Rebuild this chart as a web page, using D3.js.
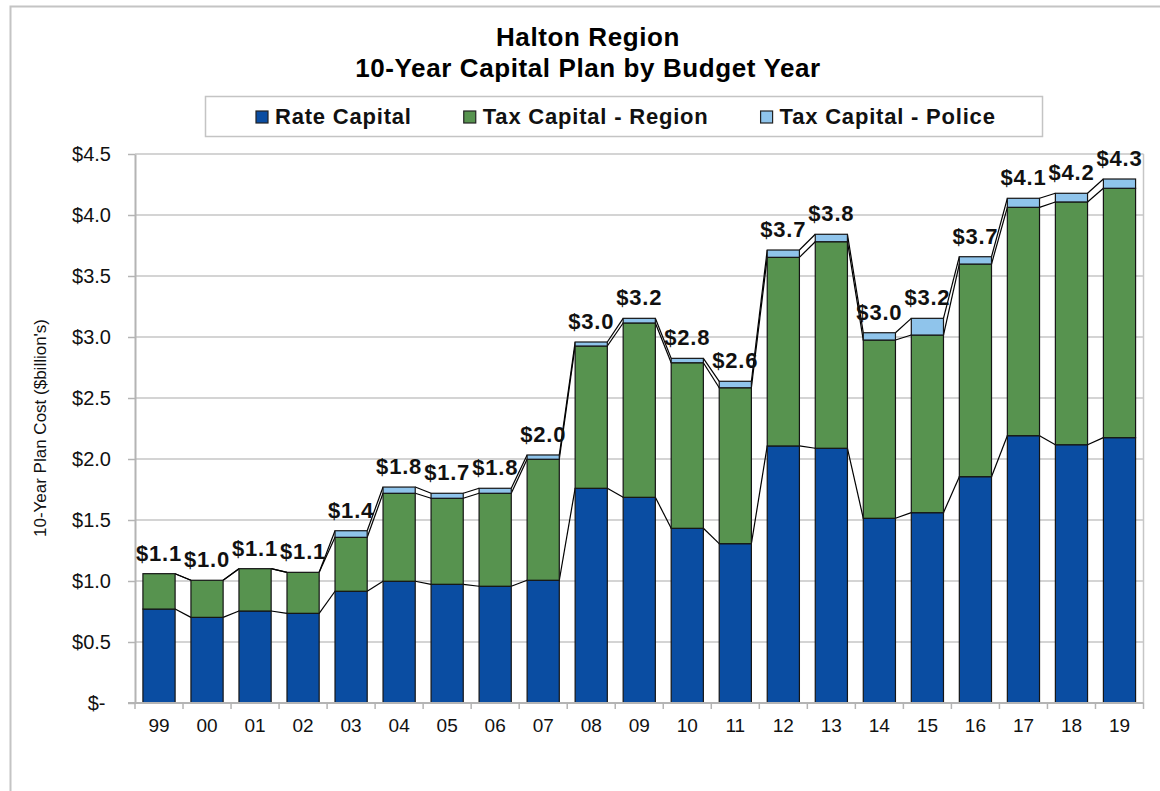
<!DOCTYPE html>
<html>
<head>
<meta charset="utf-8">
<script src="https://cdn.jsdelivr.net/npm/d3@7"></script>
<style>
  body { margin: 0; background: #fff; }
  text { font-family: "Liberation Sans", Arial, sans-serif; }
</style>
</head>
<body>
<svg id="chart" width="1160" height="791"></svg>
<script>
// budget years
const years = ["99", "00", "01", "02", "03", "04", "05", "06", "07", "08", "09",
  "10", "11", "12", "13", "14", "15", "16", "17", "18", "19"];
// $ billions
const rateCapital = [0.77, 0.702, 0.754, 0.735, 0.916, 0.998, 0.973, 0.957, 1.006, 1.76, 1.686,
  1.432, 1.306, 2.107, 2.088, 1.514, 1.56, 1.855, 2.191, 2.117, 2.175];
const taxRegion = [0.29, 0.304, 0.347, 0.336, 0.442, 0.721, 0.705, 0.762, 0.992, 1.166, 1.429,
  1.357, 1.278, 1.546, 1.693, 1.461, 1.456, 1.743, 1.872, 1.99, 2.044];
const taxPolice = [0, 0, 0, 0, 0.054, 0.051, 0.041, 0.041, 0.035, 0.033, 0.038,
  0.036, 0.053, 0.06, 0.061, 0.06, 0.137, 0.06, 0.074, 0.071, 0.076];
const seriesNames = ["Rate Capital", "Tax Capital - Region", "Tax Capital - Police"];
const yTicks = [0, 0.5, 1.0, 1.5, 2.0, 2.5, 3.0, 3.5, 4.0, 4.5];

const colors = ["#0a4da2", "#57934f", "#8fc4eb"];
const gridColor = "#c6c6c6";

const svg = d3.select("#chart");
const margin = { left: 135, right: 1143.5, top: 154, bottom: 703 };

// outer chart frame
svg.append("rect")
  .attr("x", 10.5).attr("y", 6.5)
  .attr("width", 1300).attr("height", 1000)
  .attr("fill", "none").attr("stroke", "#c4c4c4").attr("stroke-width", 2);

// title
const title = svg.append("text")
  .attr("text-anchor", "middle")
  .style("font-size", "26px").style("font-weight", "bold")
  .style("letter-spacing", "0.6px");
title.append("tspan").attr("x", 588).attr("y", 46).text("Halton Region");
title.append("tspan").attr("x", 588).attr("y", 77).text("10-Year Capital Plan by Budget Year");

// scales
const x = d3.scaleBand()
  .domain(years)
  .range([margin.left, margin.right])
  .paddingInner(0.33)
  .paddingOuter(0.165);
const xEdge = d3.scaleBand()
  .domain(years)
  .range([margin.left, margin.right])
  .padding(0);
const y = d3.scaleLinear()
  .domain([0, 4.5])
  .range([margin.bottom, margin.top]);

// gridlines
svg.append("g")
  .selectAll("line")
  .data(yTicks.slice(1))
  .enter().append("line")
  .attr("x1", margin.left).attr("x2", margin.right)
  .attr("y1", d => y(d)).attr("y2", d => y(d))
  .attr("stroke", gridColor).attr("stroke-width", 1.5);

// right border of plot
svg.append("line")
  .attr("x1", margin.right).attr("x2", margin.right)
  .attr("y1", margin.top).attr("y2", margin.bottom)
  .attr("stroke", gridColor).attr("stroke-width", 1.5);

// y axis
const yAxis = svg.append("g")
  .attr("transform", `translate(${margin.left},0)`)
  .call(d3.axisLeft(y)
    .tickValues(yTicks)
    .tickSize(7)
    .tickSizeOuter(0)
    .tickPadding(17)
    .tickFormat(d => d === 0 ? "$-\u00a0" : "$" + d3.format(".1f")(d)));
yAxis.select(".domain").attr("stroke", "#b4b4b4").attr("stroke-width", 2);
yAxis.selectAll(".tick line").attr("stroke", "#b4b4b4").attr("stroke-width", 1.5);
yAxis.selectAll("text")
  .style("font-size", "20px").style("font-family", "Liberation Sans, Arial, sans-serif")
  .attr("fill", "#111");

// y axis title
svg.append("text")
  .attr("transform", "translate(46,428) rotate(-90)")
  .attr("text-anchor", "middle")
  .style("font-size", "17px")
  .attr("fill", "#111")
  .text("10-Year Plan Cost ($billion's)");

// stacked data
const rows = years.map((yr, i) => ({
  year: yr,
  rate: rateCapital[i],
  region: taxRegion[i],
  police: taxPolice[i]
}));
const keys = ["rate", "region", "police"];
const stacked = d3.stack().keys(keys)(rows);

// series lines connecting segment tops
const bw = x.bandwidth();
stacked.forEach(layer => {
  const segs = [];
  for (let i = 0; i < layer.length - 1; i++) {
    segs.push({
      x1: x(years[i]) + bw, y1: y(layer[i][1]),
      x2: x(years[i + 1]), y2: y(layer[i + 1][1])
    });
  }
  svg.append("g")
    .selectAll("line")
    .data(segs)
    .enter().append("line")
    .attr("x1", d => d.x1).attr("y1", d => d.y1)
    .attr("x2", d => d.x2).attr("y2", d => d.y2)
    .attr("stroke", "#000").attr("stroke-width", 1.2);
});

// bars
svg.append("g")
  .selectAll("g")
  .data(stacked)
  .enter().append("g")
  .attr("fill", (d, i) => colors[i])
  .selectAll("rect")
  .data(d => d)
  .enter().append("rect")
  .attr("x", d => x(d.data.year))
  .attr("y", d => y(d[1]))
  .attr("width", bw)
  .attr("height", d => y(d[0]) - y(d[1]))
  .attr("stroke", "#151515")
  .attr("stroke-width", 1.2);

// x axis
const xAxis = svg.append("g")
  .attr("transform", `translate(0,${margin.bottom})`)
  .call(d3.axisBottom(x).tickSize(0).tickPadding(16));
xAxis.select(".domain").remove();
xAxis.selectAll("text")
  .style("font-size", "19px").style("font-family", "Liberation Sans, Arial, sans-serif")
  .attr("fill", "#111");
svg.append("line")
  .attr("x1", margin.left - 7).attr("x2", margin.right)
  .attr("y1", margin.bottom).attr("y2", margin.bottom)
  .attr("stroke", "#b4b4b4").attr("stroke-width", 2);
svg.append("g")
  .selectAll("line")
  .data(years.concat(["end"]))
  .enter().append("line")
  .attr("x1", (d, i) => i < years.length ? xEdge(d) : margin.right)
  .attr("x2", (d, i) => i < years.length ? xEdge(d) : margin.right)
  .attr("y1", margin.bottom).attr("y2", margin.bottom + 6)
  .attr("stroke", "#b4b4b4").attr("stroke-width", 1.5);

// total labels
svg.append("g")
  .selectAll("text")
  .data(rows)
  .enter().append("text")
  .attr("x", d => x(d.year) + bw / 2)
  .attr("y", d => y(d.rate + d.region + d.police) - 13)
  .attr("text-anchor", "middle")
  .style("font-size", "22px").style("font-weight", "bold")
  .style("letter-spacing", "0.8px")
  .attr("fill", "#111")
  .text(d => "$" + d3.format(".1f")(d.rate + d.region + d.police));

// legend
svg.append("rect")
  .attr("x", 205.5).attr("y", 96.5)
  .attr("width", 837).attr("height", 40)
  .attr("fill", "#fff").attr("stroke", "#c4c4c4").attr("stroke-width", 1.5);
let lx = 256;
seriesNames.forEach((name, i) => {
  svg.append("rect")
    .attr("x", lx).attr("y", 111)
    .attr("width", 12).attr("height", 12)
    .attr("fill", colors[i]).attr("stroke", "#222").attr("stroke-width", 1.2);
  const t = svg.append("text")
    .attr("x", lx + 19).attr("y", 124)
    .style("font-size", "22px").style("font-weight", "bold")
    .style("letter-spacing", "0.8px")
    .attr("fill", "#111")
    .text(name);
  lx += 19 + t.node().getComputedTextLength() + 52;
});
</script>
</body>
</html>
